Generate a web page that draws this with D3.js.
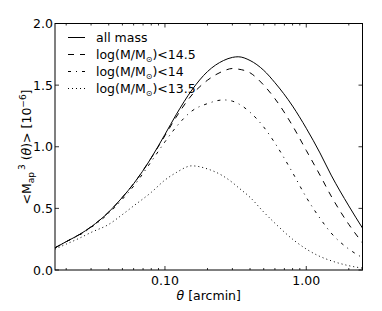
<!DOCTYPE html>
<html>
<head>
<meta charset="utf-8">
<script src="https://cdn.jsdelivr.net/npm/d3@7"></script>
<style>
  body { margin: 0; background: #fff; }
  svg { display: block; font-family: "DejaVu Sans", sans-serif; }
</style>
</head>
<body>
<svg id="chart" width="382" height="311"></svg>
<script>
// theta in arcmin, values in units of 1e-6
const theta = [0.01667, 0.02, 0.025, 0.03, 0.04, 0.05, 0.06, 0.08, 0.1, 0.12, 0.155, 0.2, 0.26, 0.3, 0.33, 0.4, 0.5, 0.6, 0.8, 1.0, 1.25, 1.5, 2.0, 2.5];
const allMass = [0.18, 0.23, 0.29, 0.35, 0.47, 0.59, 0.70, 0.91, 1.10, 1.26, 1.46, 1.61, 1.70, 1.725, 1.73, 1.70, 1.62, 1.52, 1.33, 1.15, 0.95, 0.77, 0.52, 0.34];
const lt145 = [0.18, 0.23, 0.29, 0.35, 0.47, 0.59, 0.70, 0.91, 1.09, 1.24, 1.42, 1.54, 1.615, 1.635, 1.63, 1.60, 1.50, 1.39, 1.17, 0.97, 0.77, 0.60, 0.37, 0.22];
const lt14 = [0.18, 0.23, 0.285, 0.345, 0.46, 0.575, 0.68, 0.88, 1.04, 1.16, 1.29, 1.35, 1.38, 1.37, 1.35, 1.28, 1.16, 1.03, 0.79, 0.59, 0.42, 0.30, 0.17, 0.10];
const lt135 = [0.17, 0.21, 0.26, 0.305, 0.37, 0.45, 0.52, 0.63, 0.73, 0.79, 0.845, 0.82, 0.76, 0.71, 0.67, 0.59, 0.47, 0.38, 0.25, 0.17, 0.11, 0.075, 0.035, 0.015];

const seriesNames = ["all mass", "log(M/M\u2299)<14.5", "log(M/M\u2299)<14", "log(M/M\u2299)<13.5"];
const seriesValues = [allMass, lt145, lt14, lt135];
const seriesDash = [null, "6,6", "3,5,1,5", "1,3"];

const yTicks = [0, 0.5, 1.0, 1.5, 2.0];
const xMajor = [0.1, 1.0];
const xMinor = [0.02, 0.03, 0.04, 0.05, 0.06, 0.07, 0.08, 0.09, 0.2, 0.3, 0.4, 0.5, 0.6, 0.7, 0.8, 0.9, 2.0];

const svg = d3.select("#chart");
const m = {left: 55, right: 19.5, top: 23.5, bottom: 41};
const W = 382, H = 311;

const x = d3.scaleLog().domain([1 / 60, 2.5]).range([m.left, W - m.right]);
const y = d3.scaleLinear().domain([0, 2]).range([H - m.bottom, m.top]);

// lines
const line = d3.line().x(d => x(d[0])).y(d => y(d[1])).curve(d3.curveMonotoneX);
const clip = svg.append("clipPath").attr("id", "clip").append("rect")
    .attr("x", m.left).attr("y", m.top)
    .attr("width", W - m.right - m.left).attr("height", H - m.bottom - m.top);

seriesValues.forEach((vals, i) => {
    svg.append("path")
        .attr("clip-path", "url(#clip)")
        .attr("d", line(theta.map((t, j) => [t, vals[j]])))
        .attr("fill", "none")
        .attr("stroke", "#000")
        .attr("stroke-width", 1)
        .attr("stroke-dasharray", seriesDash[i]);
});

// frame
svg.append("rect")
    .attr("x", m.left).attr("y", m.top)
    .attr("width", W - m.right - m.left).attr("height", H - m.bottom - m.top)
    .attr("fill", "none").attr("stroke", "#000").attr("stroke-width", 1);

// ticks: inward, on all four sides
const tk = svg.append("g").attr("stroke", "#000").attr("stroke-width", 0.8);
yTicks.forEach(v => {
    tk.append("line").attr("x1", m.left).attr("x2", m.left + 4).attr("y1", y(v)).attr("y2", y(v));
    tk.append("line").attr("x1", W - m.right).attr("x2", W - m.right - 4).attr("y1", y(v)).attr("y2", y(v));
});
xMajor.forEach(v => {
    tk.append("line").attr("x1", x(v)).attr("x2", x(v)).attr("y1", H - m.bottom).attr("y2", H - m.bottom - 4);
    tk.append("line").attr("x1", x(v)).attr("x2", x(v)).attr("y1", m.top).attr("y2", m.top + 4);
});
xMinor.forEach(v => {
    tk.append("line").attr("x1", x(v)).attr("x2", x(v)).attr("y1", H - m.bottom).attr("y2", H - m.bottom - 2);
    tk.append("line").attr("x1", x(v)).attr("x2", x(v)).attr("y1", m.top).attr("y2", m.top + 2);
});

// tick labels
svg.append("g").selectAll("text").data(yTicks).join("text")
    .attr("x", m.left - 2).attr("y", d => y(d) + 4.5)
    .attr("text-anchor", "end").attr("font-size", 12.5)
    .text(d => d.toFixed(1));
svg.append("g").selectAll("text").data(xMajor).join("text")
    .attr("x", d => x(d)).attr("y", H - m.bottom + 15)
    .attr("text-anchor", "middle").attr("font-size", 12.5)
    .text(d => d.toFixed(2));

// axis labels
const xl = svg.append("text").attr("x", (m.left + W - m.right) / 2).attr("y", H - 11)
    .attr("text-anchor", "middle").attr("font-size", 12.5);
xl.append("tspan").attr("font-style", "italic").text("\u03b8");
xl.append("tspan").text(" [arcmin]");

const yl = svg.append("text")
    .attr("transform", `translate(31,147) rotate(-90)`)
    .attr("text-anchor", "middle").attr("font-size", 12.5);
yl.append("tspan").text("<M");
yl.append("tspan").attr("font-size", 9).attr("dy", 3).text("ap");
yl.append("tspan").attr("font-size", 9).attr("dy", -9).attr("dx", 2).text("3");
yl.append("tspan").attr("dy", 6).text(" (");
yl.append("tspan").attr("font-style", "italic").text("\u03b8");
yl.append("tspan").text(")>  [10");
yl.append("tspan").attr("font-size", 9).attr("dy", -5).text("\u22126");
yl.append("tspan").attr("dy", 5).text("]");

// legend
const leg = svg.append("g");
seriesNames.forEach((name, i) => {
    const ly = 37.5 + i * 17;
    leg.append("line").attr("x1", 68).attr("x2", 85).attr("y1", ly).attr("y2", ly)
        .attr("stroke", "#000").attr("stroke-width", 1).attr("stroke-dasharray", seriesDash[i]);
    const t = leg.append("text").attr("x", 96).attr("y", ly + 4.5).attr("font-size", 12.5);
    if (i === 0) {
        t.text(name);
    } else {
        const lim = name.split("<")[1];
        t.append("tspan").text("log(M/M");
        t.append("tspan").attr("font-size", 8).attr("dy", 3).text("\u2299");
        t.append("tspan").attr("dy", -3).text(")<" + lim);
    }
});
</script>
</body>
</html>
